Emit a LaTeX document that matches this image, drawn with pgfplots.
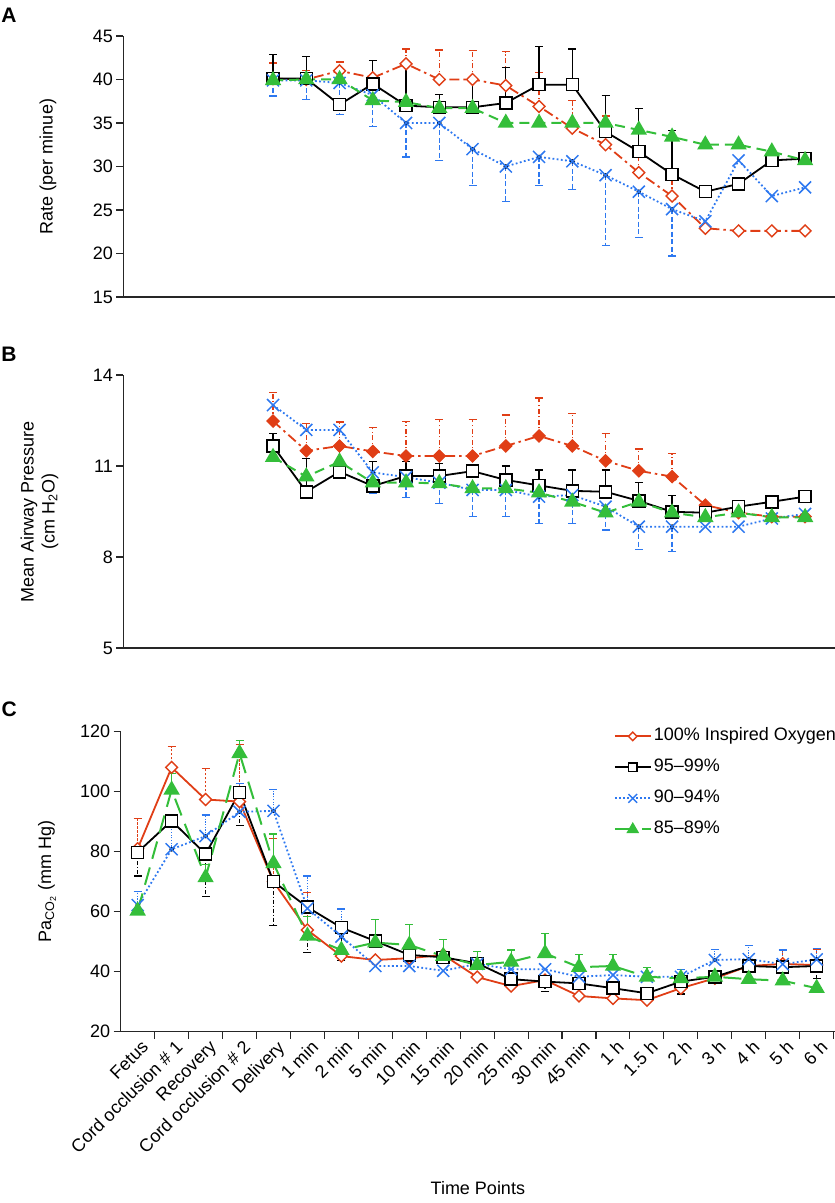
\documentclass[border=0pt]{standalone}
\usepackage{fontspec}
\setmainfont{Liberation Sans}
\usepackage{pgfplots}
\pgfplotsset{compat=1.18}
\definecolor{cred}{RGB}{224,62,22}
\definecolor{cblue}{RGB}{45,120,240}
\definecolor{cgreen}{RGB}{52,190,58}
\newcommand{\fs}{\fontsize{18bp}{21bp}\selectfont}
\pgfplotsset{
  common/.style={scale only axis, axis x line*=bottom, axis y line*=left,
    tick align=outside, major tick length=7bp,
    axis line style={line width=1.1bp, black!85},
    every tick/.style={line width=1.1bp, black!85},
    tick label style={font=\fs}, label style={font=\fs},
    /pgf/number format/assume math mode=true, clip=false, xmin=-0.5},
  sred/.style={color=cred, line width=1.8bp, mark=square*, mark size=4.2bp,
    mark options={rotate=45, solid, fill=white, draw=cred, line width=1.4bp}},
  sredf/.style={color=cred, line width=1.8bp, mark=square*, mark size=4.4bp,
    mark options={rotate=45, solid, fill=cred, draw=cred, line width=1bp}},
  sblack/.style={color=black, line width=1.8bp, mark=square*, mark size=6bp,
    mark options={solid, fill=white, draw=black, line width=1.5bp}},
  sblue/.style={color=cblue, line width=1.8bp, mark=x, mark size=8.5bp,
    mark options={solid, line width=1.5bp}},
  sgreen/.style={color=cgreen, line width=2bp, mark=triangle*, mark size=7.5bp,
    mark options={solid, fill=cgreen}},
  ddot/.style={dash pattern=on 10bp off 4bp on 2.5bp off 4bp},
  dotd/.style={dash pattern=on 1.8bp off 2.4bp},
  dgreen/.style={dash pattern=on 10bp off 6bp},
  dgreenC/.style={dash pattern=on 18bp off 9bp},
  eb/.style n args={3}{forget plot, only marks, mark=none,
    error bars/.cd, y dir=#1, y explicit,
    error bar style={#2, line width=1.2bp, #3},
    error mark options={rotate=90, #2, mark size=4bp, line width=1.2bp, solid}},
  legend image code/.code={\draw[mark repeat=2,mark phase=2,#1,every mark/.append style={scale=0.72}] plot coordinates {(0bp,0bp) (18bp,0bp) (36bp,0bp)};},
}
\begin{document}
\begin{tikzpicture}
\useasboundingbox (0bp,0bp) rectangle (835bp,1203bp);
% ---------------- Panel A ----------------
\begin{axis}[common, at={(123.4bp,906bp)}, anchor=south west, width=711.6bp, height=261bp,
  xmax=20.9, ymin=15, ymax=45, ytick={15,20,...,45}, xtick=\empty,
  ylabel={Rate (per minue)}, ylabel style={at={(axis description cs:-0.106,0.5)}, anchor=center}]
\addplot[eb={plus}{cred}{dash pattern=on 5bp off 2.5bp on 1.2bp off 2.5bp}] coordinates {
 (4,40.1)+-(0,1.8) (5,40.0)+-(0,1.0) (6,41.0)+-(0,1.0) (8,41.8)+-(0,1.7) (9,40.0)+-(0,3.4)
 (10,40.0)+-(0,3.3) (11,39.3)+-(0,3.9) (12,36.9)+-(0,3.9) (13,34.4)+-(0,3.2) (14,32.5)+-(0,3.3)
 (15,29.3)+-(0,2.4) (16,26.6)+-(0,2.2)};
\addplot[eb={plus}{black}{solid}] coordinates {
 (4,40.1)+-(0,2.8) (5,40.1)+-(0,2.5) (7,39.5)+-(0,2.7) (8,37.0)+-(0,4.5) (9,36.8)+-(0,1.5)
 (10,36.8)+-(0,3.0) (11,37.3)+-(0,4.1) (12,39.4)+-(0,4.4) (13,39.4)+-(0,4.1) (14,34.0)+-(0,4.2)
 (15,31.7)+-(0,5.0) (16,29.1)+-(0,5.0)};
\addplot[eb={minus}{cblue}{dash pattern=on 5bp off 2.5bp}] coordinates {
 (4,39.9)+-(0,1.8) (5,39.9)+-(0,2.2) (6,39.6)+-(0,3.6) (7,38.2)+-(0,3.6) (8,35.0)+-(0,3.9)
 (9,35.0)+-(0,4.3) (10,32.0)+-(0,4.2) (11,30.0)+-(0,4.0) (12,31.1)+-(0,3.3) (13,30.6)+-(0,3.2)
 (14,29.0)+-(0,8.1) (15,27.1)+-(0,5.3) (16,25.1)+-(0,5.4)};
\addplot[sred, ddot] coordinates {(4,40.1)(5,40.0)(6,41.0)(7,40.2)(8,41.8)(9,40.0)(10,40.0)(11,39.3)(12,36.9)(13,34.4)(14,32.5)(15,29.3)(16,26.6)(17,22.9)(18,22.6)(19,22.6)(20,22.6)};
\addplot[sblack] coordinates {(4,40.1)(5,40.1)(6,37.1)(7,39.5)(8,37.0)(9,36.8)(10,36.8)(11,37.3)(12,39.4)(13,39.4)(14,34.0)(15,31.7)(16,29.1)(17,27.1)(18,28.0)(19,30.7)(20,30.9)};
\addplot[sblue, dotd] coordinates {(4,39.9)(5,39.9)(6,39.6)(7,38.2)(8,35.0)(9,35.0)(10,32.0)(11,30.0)(12,31.1)(13,30.6)(14,29.0)(15,27.1)(16,25.1)(17,23.7)(18,30.7)(19,26.6)(20,27.6)};
\addplot[sgreen, dgreen] coordinates {(4,39.9)(5,40.0)(6,40.0)(7,37.6)(8,37.4)(9,36.7)(10,36.7)(11,35.0)(12,35.0)(13,35.0)(14,35.0)(15,34.2)(16,33.4)(17,32.5)(18,32.5)(19,31.7)(20,30.7)};
\node[font=\bfseries\fontsize{21bp}{21bp}\selectfont] at (axis description cs:-0.161,1.08) {A};
\end{axis}
% ---------------- Panel B ----------------
\begin{axis}[common, at={(123.4bp,555bp)}, anchor=south west, width=711.6bp, height=273bp,
  xmax=20.9, ymin=5, ymax=14, ytick={5,8,11,14}, xtick=\empty,
  ylabel={Mean Airway Pressure\\(cm H\textsubscript{2}O)}, ylabel style={align=center, at={(axis description cs:-0.118,0.5)}, anchor=center}]
\addplot[eb={plus}{cred}{dash pattern=on 5bp off 2.5bp on 1.2bp off 2.5bp}] coordinates {
 (4,12.48)+-(0,0.94) (5,11.50)+-(0,0.91) (6,11.66)+-(0,0.79) (7,11.48)+-(0,0.79) (8,11.33)+-(0,1.13)
 (9,11.33)+-(0,1.19) (10,11.33)+-(0,1.19) (11,11.66)+-(0,1.02) (12,11.99)+-(0,1.25) (13,11.66)+-(0,1.08)
 (14,11.17)+-(0,0.91) (15,10.84)+-(0,0.72) (16,10.65)+-(0,0.75)};
\addplot[eb={plus}{black}{solid}] coordinates {
 (4,11.66)+-(0,0.42) (5,10.15)+-(0,1.10) (6,10.81)+-(0,0.9) (7,10.34)+-(0,0.80) (8,10.67)+-(0,0.47)
 (9,10.67)+-(0,0.42) (10,10.83)+-(0,0.2) (11,10.54)+-(0,0.46) (12,10.36)+-(0,0.51) (13,10.18)+-(0,0.69)
 (14,10.15)+-(0,0.72) (15,9.85)+-(0,0.61) (16,9.49)+-(0,0.55)};
\addplot[eb={minus}{cblue}{dash pattern=on 5bp off 2.5bp}] coordinates {
 (7,10.79)+-(0,0.69) (8,10.63)+-(0,0.66) (9,10.45)+-(0,0.68) (10,10.21)+-(0,0.88) (11,10.21)+-(0,0.88)
 (12,9.99)+-(0,0.88) (13,10.04)+-(0,0.93) (14,9.66)+-(0,0.77) (15,9.00)+-(0,0.75) (16,9.00)+-(0,0.83)};
\addplot[sredf, ddot] coordinates {(4,12.48)(5,11.50)(6,11.66)(7,11.48)(8,11.33)(9,11.33)(10,11.33)(11,11.66)(12,11.99)(13,11.66)(14,11.17)(15,10.84)(16,10.65)(17,9.71)(18,9.46)(19,9.33)(20,9.33)};
\addplot[sblack] coordinates {(4,11.66)(5,10.15)(6,10.81)(7,10.34)(8,10.67)(9,10.67)(10,10.83)(11,10.54)(12,10.36)(13,10.18)(14,10.15)(15,9.85)(16,9.49)(17,9.46)(18,9.66)(19,9.82)(20,9.99)};
\addplot[sblue, dotd] coordinates {(4,13.01)(5,12.19)(6,12.19)(7,10.79)(8,10.63)(9,10.45)(10,10.21)(11,10.21)(12,9.99)(13,10.04)(14,9.66)(15,9.00)(16,9.00)(17,9.00)(18,9.00)(19,9.27)(20,9.42)};
\addplot[sgreen, dgreen] coordinates {(4,11.29)(5,10.65)(6,11.14)(7,10.45)(8,10.45)(9,10.43)(10,10.26)(11,10.26)(12,10.12)(13,9.82)(14,9.46)(15,9.82)(16,9.46)(17,9.31)(18,9.46)(19,9.31)(20,9.31)};
\node[font=\bfseries\fontsize{21bp}{21bp}\selectfont] at (axis description cs:-0.161,1.077) {B};
\end{axis}
% ---------------- Panel C ----------------
\begin{axis}[common, at={(120.7bp,171.3bp)}, anchor=south west, width=714.3bp, height=300bp,
  xmax=20.54, ymin=20, ymax=120, ytick={20,40,...,120},
  xtick={0.5,1.5,...,20.5}, xticklabels={},
  extra x ticks={0,1,...,20},
  extra x tick labels={Fetus,Cord occlusion \# 1,Recovery,Cord occlusion \# 2,Delivery,1 min,2 min,5 min,10 min,15 min,20 min,25 min,30 min,45 min,1 h,1.5 h,2 h,3 h,4 h,5 h,6 h},
  extra x tick style={major tick length=0pt, tick label style={rotate=45, anchor=north east, font=\fs, yshift=-4bp}},
  xlabel={Time Points}, xlabel style={at={(axis description cs:0.5,-0.52)}, anchor=center},
  ylabel={Pa\textsubscript{CO\textsubscript{2}} (mm Hg)}, ylabel style={at={(axis description cs:-0.103,0.5)}, anchor=center},
  legend style={draw=none, fill=none, at={(axis description cs:0.69,1.02)}, anchor=north west, font=\fs, row sep=10bp, inner sep=0pt, nodes={inner sep=2bp, text height=13bp, text depth=4bp}},
  legend cell align=left]
\addplot[eb={plus}{cred}{dash pattern=on 2.5bp off 1.5bp}] coordinates {
 (0,81)+-(0,10) (1,108.1)+-(0,6.9) (2,97.4)+-(0,10.2) (3,96.7)+-(0,18.9) (4,70)+-(0,14.4)
 (5,53.9)+-(0,12.4) (19,42.6)+-(0,4.4) (20,42.2)+-(0,5.3)};
\addplot[eb={minus}{black}{dash pattern=on 4bp off 2bp on 1bp off 2bp}] coordinates {
 (0,79.8)+-(0,7.9) (2,79.2)+-(0,14.2) (3,99.8)+-(0,11.2) (4,70.0)+-(0,14.7) (5,61.5)+-(0,15.1)
 (6,54.7)+-(0,11.0) (11,37.5)+-(0,3.0) (12,36.7)+-(0,3.3) (16,36.7)+-(0,4.1) (20,41.9)+-(0,4.1)};
\addplot[eb={plus}{cblue}{dash pattern=on 1.2bp off 1.5bp}] coordinates {
 (0,62.2)+-(0,4.5) (1,80.8)+-(0,9) (2,85.2)+-(0,7.0) (3,93.3)+-(0,9.5) (4,93.6)+-(0,7.0)
 (5,61.1)+-(0,10.8) (6,51.7)+-(0,9.2) (16,38.3)+-(0,2.5) (17,43.9)+-(0,3.6) (18,44.2)+-(0,4.4)
 (19,42.5)+-(0,4.7) (20,44.1)+-(0,3.5)};
\addplot[eb={plus}{cgreen}{solid}] coordinates {
 (1,100.6)+-(0,5.5) (2,71.4)+-(0,4.2) (3,112.8)+-(0,4.2) (4,76.1)+-(0,9.8) (5,51.9)+-(0,6.4)
 (7,49.7)+-(0,7.7) (8,48.9)+-(0,6.7) (9,45.2)+-(0,5.6) (10,42.2)+-(0,4.5) (11,43.3)+-(0,3.9)
 (12,46.1)+-(0,6.7) (13,41.5)+-(0,4.1) (14,41.9)+-(0,3.7) (15,38.3)+-(0,3.2)};
\addplot[sred] coordinates {(0,81)(1,108.1)(2,97.4)(3,96.7)(4,70)(5,53.9)(6,45.2)(7,43.9)(8,44.5)(9,45.6)(10,38.2)(11,35.2)(12,37.2)(13,31.9)(14,31.1)(15,30.5)(16,34.5)(17,37.8)(18,41.9)(19,42.6)(20,42.2)};
\addplot[sblack] coordinates {(0,79.8)(1,90.3)(2,79.2)(3,99.8)(4,70.0)(5,61.5)(6,54.7)(7,50.2)(8,45.6)(9,44.8)(10,42.8)(11,37.5)(12,36.7)(13,36.1)(14,34.5)(15,32.8)(16,36.7)(17,38.3)(18,41.9)(19,41.5)(20,41.9)};
\addplot[sblue, dotd] coordinates {(0,62.2)(1,80.8)(2,85.2)(3,93.3)(4,93.6)(5,61.1)(6,51.7)(7,41.9)(8,41.9)(9,40.3)(10,42.6)(11,40.8)(12,40.8)(13,38.3)(14,38.9)(15,38.3)(16,38.3)(17,43.9)(18,44.2)(19,42.5)(20,44.1)};
\addplot[sgreen, dgreenC] coordinates {(0,60.3)(1,100.6)(2,71.4)(3,112.8)(4,76.1)(5,51.9)(6,47.2)(7,49.7)(8,48.9)(9,45.2)(10,42.2)(11,43.3)(12,46.1)(13,41.5)(14,41.9)(15,38.3)(16,37.8)(17,38.3)(18,37.5)(19,37.0)(20,34.5)};
\legend{100\% Inspired Oxygen, 95--99\%, 90--94\%, 85--89\%}
\node[font=\bfseries\fontsize{21bp}{21bp}\selectfont] at (axis description cs:-0.156,1.076) {C};
\end{axis}
\end{tikzpicture}
\end{document}
